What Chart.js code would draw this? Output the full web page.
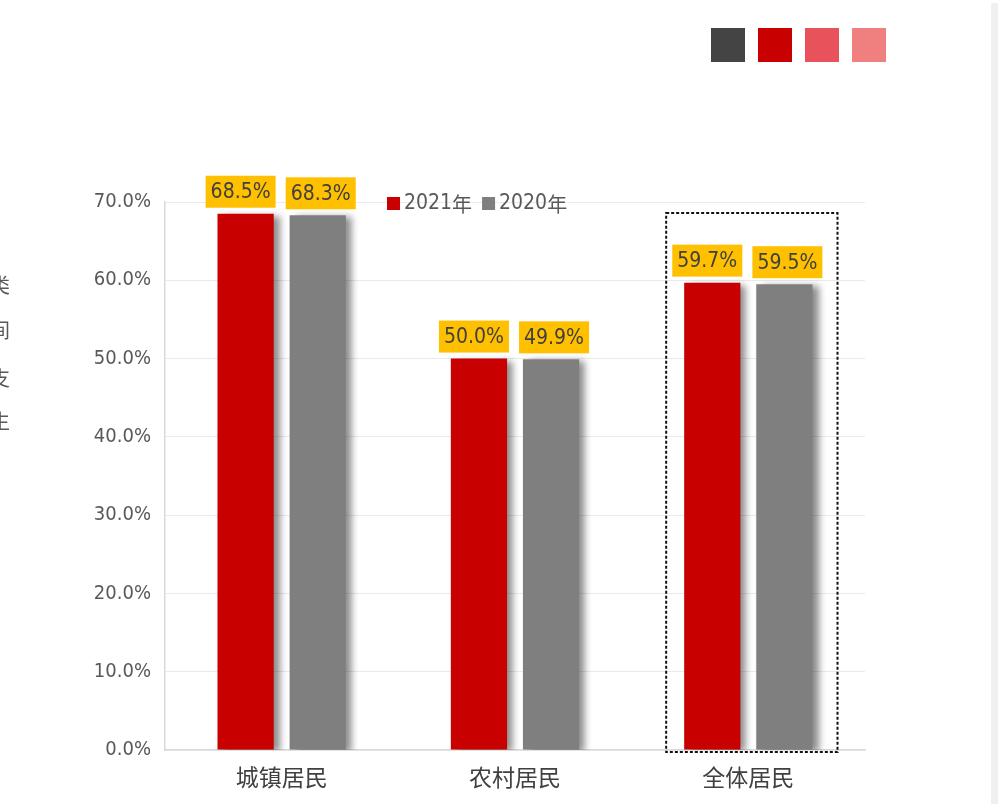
<!DOCTYPE html>
<html>
<head>
<meta charset="utf-8">
<script src="https://cdn.jsdelivr.net/npm/chart.js@4/dist/chart.umd.min.js"></script>
<style>
  html, body { margin: 0; padding: 0; background: #fff; overflow: hidden; }
  #wrap { width: 1000px; height: 807px; position: relative; }
</style>
</head>
<body>
<div id="wrap"><canvas id="c" width="1000" height="807"></canvas></div>
<script>
// data
const categories = ['城镇居民', '农村居民', '全体居民']
const values2021 = [68.5, 50.0, 59.7]
const values2020 = [68.3, 49.9, 59.5]
const seriesNames = ['2021年', '2020年']
const swatchColors = ['#444444', '#C80000', '#E8525A', '#F08080']
const sideChars = ['类', '间', '支', '生']

const RED = '#C80000'
const GRAY = '#7F7F7F'
const NARROW = '"Liberation Sans Narrow", "DejaVu Sans Condensed", Arial, sans-serif'
const CJK = '"Noto Sans CJK SC", "Noto Sans", sans-serif'

// soft shadow to the right of each bar
const barShadow = {
  id: 'barShadow',
  beforeDatasetsDraw(chart) {
    const ctx = chart.ctx
    ctx.save()
    ctx.shadowColor = 'rgba(0,0,0,0.45)'
    ctx.shadowBlur = 7
    ctx.shadowOffsetX = 6
    ctx.shadowOffsetY = 2
  },
  afterDatasetsDraw(chart) {
    chart.ctx.restore()
  }
}

// yellow value boxes, legend, dashed frame and page bits
const decorations = {
  id: 'decorations',
  afterDraw(chart) {
    const ctx = chart.ctx
    const area = chart.chartArea

    // value labels (red ones sit a bit left, gray ones a bit right)
    const shift = [-5, 3]
    ctx.save()
    ctx.font = '21px ' + NARROW
    ctx.textAlign = 'center'
    ctx.textBaseline = 'middle'
    chart.data.datasets.forEach((ds, i) => {
      chart.getDatasetMeta(i).data.forEach((bar, j) => {
        const txt = ds.data[j].toFixed(1) + '%'
        const w = ctx.measureText(txt).width + 10
        const h = 32
        const cx = bar.x + shift[i]
        const bottom = bar.y - 6
        ctx.fillStyle = '#FFC000'
        ctx.fillRect(cx - w / 2, bottom - h, w, h)
        ctx.fillStyle = '#404040'
        ctx.fillText(txt, cx, bottom - h / 2 + 1)
      })
    })
    ctx.restore()

    // legend
    ctx.save()
    ctx.textBaseline = 'middle'
    let lx = 387
    const ly = 204
    const legendColors = [RED, GRAY]
    seriesNames.forEach((name, i) => {
      ctx.fillStyle = legendColors[i]
      ctx.fillRect(lx, ly - 7, 13, 13)
      ctx.fillStyle = '#595959'
      ctx.font = '21px ' + NARROW
      const num = name.replace('年', '')
      ctx.fillText(num, lx + 17, ly)
      let nx = lx + 17 + ctx.measureText(num).width
      ctx.font = '20px ' + CJK
      ctx.fillText('年', nx, ly)
      lx = nx + ctx.measureText('年').width + 10
    })
    ctx.restore()

    // dashed frame around the last group
    const red = chart.getDatasetMeta(0).data[2]
    const gray = chart.getDatasetMeta(1).data[2]
    const x0 = red.x - red.width / 2 - 18
    const x1 = gray.x + gray.width / 2 + 25
    ctx.save()
    ctx.strokeStyle = '#111'
    ctx.lineWidth = 2
    ctx.setLineDash([3, 2])
    ctx.strokeRect(x0, area.top + 11, x1 - x0, area.bottom - area.top - 9)
    ctx.restore()

    // swatches top right
    ctx.save()
    swatchColors.forEach((c, i) => {
      ctx.fillStyle = c
      ctx.fillRect(711 + i * 47, 28, 34, 34)
    })
    // scrollbar
    ctx.fillStyle = '#EEF0F2'
    ctx.fillRect(991, 3, 7, 801)
    // clipped text on the left edge
    ctx.fillStyle = '#595959'
    ctx.font = '20px ' + CJK
    ctx.textAlign = 'right'
    ctx.textBaseline = 'middle'
    const ys = [285, 330, 378, 421]
    sideChars.forEach((ch, i) => ctx.fillText(ch, 10, ys[i]))
    ctx.restore()
  }
}

new Chart(document.getElementById('c'), {
  type: 'bar',
  data: {
    labels: categories,
    datasets: [
      { label: seriesNames[0], data: values2021, backgroundColor: RED },
      { label: seriesNames[1], data: values2020, backgroundColor: GRAY }
    ]
  },
  options: {
    responsive: false,
    animation: false,
    devicePixelRatio: 1,
    layout: { padding: { top: 202, right: 135, left: 0, bottom: 0 } },
    datasets: { bar: { categoryPercentage: 0.618, barPercentage: 0.78 } },
    plugins: { legend: { display: false }, tooltip: { enabled: false } },
    scales: {
      x: {
        grid: { display: false, drawTicks: false },
        border: { color: '#D9D9D9', width: 1.5 },
        ticks: { color: '#404040', font: { family: CJK, size: 23 }, padding: 13 },
        afterFit(s) { s.height = 57 }
      },
      y: {
        min: 0,
        max: 70,
        grid: { color: '#EAEAEA', drawTicks: false },
        border: { color: '#D9D9D9', width: 1.5 },
        ticks: {
          stepSize: 10,
          color: '#595959',
          font: { family: NARROW, size: 20 },
          padding: 14,
          callback: v => v.toFixed(1) + '%'
        },
        afterFit(s) { s.width = 165 }
      }
    }
  },
  plugins: [barShadow, decorations]
})
</script>
</body>
</html>
